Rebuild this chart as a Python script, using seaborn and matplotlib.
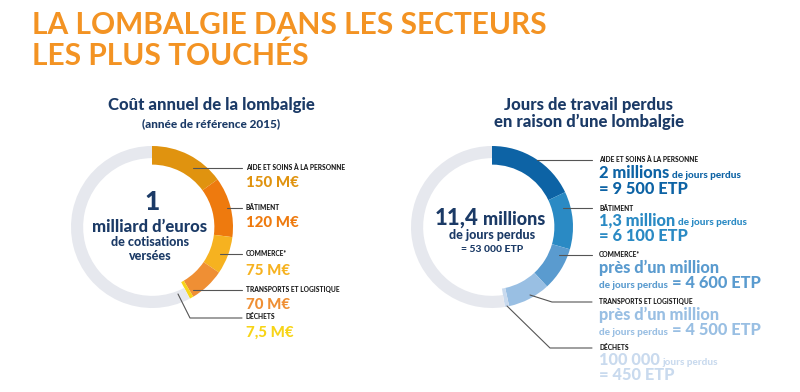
import matplotlib
matplotlib.use("Agg")
import matplotlib.pyplot as plt
import seaborn as sns

# data
cost_sectors = ["AIDE ET SOINS À LA PERSONNE", "BÂTIMENT", "COMMERCE*",
                "TRANSPORTS ET LOGISTIQUE", "DÉCHETS"]
cost_values = [150, 120, 75, 70, 7.5]          # M€
cost_total = 1000                               # 1 milliard
cost_labels = ["150 M€", "120 M€", "75 M€", "70 M€", "7,5 M€"]

days_sectors = cost_sectors
days_etp = [9500, 6100, 4600, 4500, 450]
days_total_etp = 53000
days_big = ["2 millions", "1,3 million", "près d’un million", "près d’un million", "100 000"]
days_small = ["de jours perdus", "de jours perdus", "de jours perdus", "de jours perdus", "jours perdus"]
days_etp_txt = ["= 9 500 ETP", "= 6 100 ETP", "= 4 600 ETP", "= 4 500 ETP", "= 450 ETP"]

sns.set_theme(style="white")
plt.rcParams["font.family"] = ["Lato", "DejaVu Sans"]

orange_pal = sns.color_palette(["#E0930F", "#EE7A0E", "#F6B220", "#EF8F34", "#F7D417"])
blue_pal = sns.color_palette(["#0D63A5", "#2A8AC4", "#5A9BCF", "#99BFE3", "#C9DAEE"])
ring_grey = "#E6E8EE"
navy = "#1B3A66"
line_col = "#555555"

W, H = 800, 392
fig = plt.figure(figsize=(W / 100, H / 100), dpi=100)
fig.patch.set_facecolor("white")


def donut(cx, cy, r, values, rest, colors):
    pad = 1.05
    size = 2 * r * pad
    ax = fig.add_axes([(cx - size / 2) / W, (H - cy - size / 2) / H, size / W, size / H])
    wedges, _ = ax.pie(list(values) + [rest], colors=list(colors) + [ring_grey],
                       startangle=90, counterclock=False,
                       wedgeprops=dict(width=0.23, linewidth=0))
    wedges[-1].set_width(0.15)
    ax.set_xlim(-pad, pad)
    ax.set_ylim(-pad, pad)
    ax.axis("off")
    return ax


donut(152, 227, 81, cost_values, cost_total - sum(cost_values), orange_pal)
donut(492, 227, 81, days_etp, days_total_etp - sum(days_etp), blue_pal)

# overlay in pixel coordinates
ax = fig.add_axes([0, 0, 1, 1], zorder=5)
ax.set_xlim(0, W)
ax.set_ylim(H, 0)
ax.axis("off")
ax.patch.set_alpha(0)


def after(prev, y, txt, gap=3, **kw):
    # put a text right after another one, on the same baseline
    return ax.annotate(txt, xy=(1, y), xycoords=(prev, "data"), xytext=(gap, 0),
                       textcoords="offset pixels", va="baseline", fontweight="black", **kw)


ax.text(32, 34, "LA LOMBALGIE DANS LES SECTEURS", fontsize=21.5, fontweight="bold",
        color="#F39323", va="baseline")
ax.text(32, 65, "LES PLUS TOUCHÉS", fontsize=21.5, fontweight="bold",
        color="#F39323", va="baseline")

ax.text(211, 110, "Coût annuel de la lombalgie", fontsize=12, fontweight="black",
        color=navy, ha="center", va="baseline")
ax.text(211, 127, "(année de référence 2015)", fontsize=8.5, fontweight="black",
        color=navy, ha="center", va="baseline")
ax.text(589, 110, "Jours de travail perdus", fontsize=12, fontweight="black",
        color=navy, ha="center", va="baseline")
ax.text(589, 127, "en raison d’une lombalgie", fontsize=12, fontweight="black",
        color=navy, ha="center", va="baseline")

# center of left donut
ax.text(152, 210, "1", fontsize=19, fontweight="black", color=navy, ha="center", va="baseline")
ax.text(150, 232, "milliard d’euros", fontsize=12, fontweight="black", color=navy,
        ha="center", va="baseline")
ax.text(150, 246, "de cotisations", fontsize=9, fontweight="black", color=navy,
        ha="center", va="baseline")
ax.text(150, 260, "versées", fontsize=9, fontweight="black", color=navy,
        ha="center", va="baseline")

# center of right donut
t = ax.text(435, 225, "11,4", fontsize=16, fontweight="black", color=navy, va="baseline")
after(t, 225, "millions", gap=4, fontsize=13, color=navy)
ax.text(492, 239, "de jours perdus", fontsize=9, fontweight="black", color=navy,
        ha="center", va="baseline")
ax.text(492, 252, "= 53 000 ETP", fontsize=7.5, fontweight="black", color=navy,
        ha="center", va="baseline")

# left labels
cap_y = [170, 210, 256, 292, 319]
val_y = [187, 227, 275, 309, 337]
lx = 246
for i in range(5):
    ax.text(lx, cap_y[i], cost_sectors[i], fontsize=4.8, fontweight="black",
            color="#1a1a1a", va="baseline")
    ax.text(lx, val_y[i], cost_labels[i], fontsize=10.8, fontweight="black",
            color=orange_pal[i], va="baseline")

lw = 0.8
ax.plot([193, 242], [168, 168], color=line_col, lw=lw)
ax.plot([227, 242], [208, 208], color=line_col, lw=lw)
ax.plot([220, 242], [254, 254], color=line_col, lw=lw)
ax.plot([193, 242], [290, 290], color=line_col, lw=lw)
ax.plot([178, 190, 242], [294, 318, 318], color=line_col, lw=lw)

# right labels
rx = 599
rcap_y = [162, 211, 257, 304, 350]
big_y = [178, 225, 273, 320, 365]
etp_y = [194, 241, 288, 335, 380]
big_fs = 11.8
for i in range(5):
    ax.text(rx, rcap_y[i], days_sectors[i], fontsize=4.8, fontweight="black",
            color="#1a1a1a", va="baseline")
    big = ax.text(rx, big_y[i], days_big[i], fontsize=big_fs, fontweight="black",
                  color=blue_pal[i], va="baseline")
    if i in (2, 3):
        s = ax.text(rx, etp_y[i], days_small[i], fontsize=7.2, fontweight="black",
                    color=blue_pal[i], va="baseline")
        after(s, etp_y[i], days_etp_txt[i], gap=4, fontsize=big_fs, color=blue_pal[i])
    else:
        after(big, big_y[i], days_small[i], gap=3, fontsize=7.2, color=blue_pal[i])
        ax.text(rx, etp_y[i], days_etp_txt[i], fontsize=big_fs, fontweight="black",
                color=blue_pal[i], va="baseline")

ax.plot([537, 592], [160, 160], color=line_col, lw=lw)
ax.plot([563, 592], [208, 208], color=line_col, lw=lw)
ax.plot([559, 592], [255, 255], color=line_col, lw=lw)
ax.plot([530, 552, 592], [295, 302, 302], color=line_col, lw=lw)
ax.plot([507, 550, 592], [306, 348, 348], color=line_col, lw=lw)

fig.savefig("out.png", dpi=100, facecolor="white")
